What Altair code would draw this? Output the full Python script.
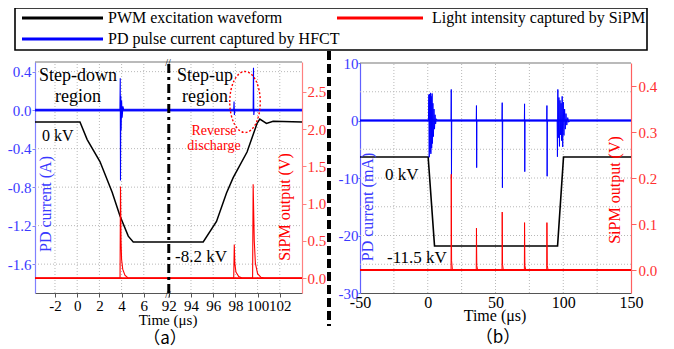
import altair as alt
import pandas as pd

FONT = "Liberation Serif"
CJK_FONT = "Noto Sans CJK TC"
BLUE = "#0000ff"
RED = "#ff0000"
BLACK = "#000000"
GRID = "#b8b8b8"

# ---------------- data ----------------
# Panel (a): time in microseconds (real time; after the axis break the time starts at 92 us)
A_PWM_T = [-3.8, 0.25, 0.9, 2.05, 3.15, 3.85, 4.6, 5.05, 8.2, 92.0, 95.1, 96.3, 97.2, 97.8, 99.05, 99.95, 100.2, 100.8, 101.4, 104.0]
A_PWM_KV = [0, 0, -1.2, -2.7, -4.8, -6.4, -7.8, -8.2, -8.2, -8.2, -8.2, -6.8, -4.85, -3.8, -2.05, -0.1, 0.2, -0.1, 0.05, 0]

A_PD_T = [-3.8, 3.85, 3.88, 3.9, 3.93, 3.96, 4.0, 4.05, 4.12, 4.2, 97.85, 97.88, 97.91, 97.95, 99.6, 99.63, 99.66, 99.7, 104.0]
A_PD_A = [0, 0, 0.33, -0.73, 0.15, -0.21, 0.1, -0.08, 0.04, 0, 0, 0.09, -0.05, 0, 0, 0.44, -0.05, 0, 0]

A_SIPM_T = [-3.8, 3.86, 3.9, 3.95, 4.0, 4.1, 4.3, 4.6, 97.85, 97.9, 97.95, 98.05, 98.3, 98.6, 99.55, 99.6, 99.7, 99.8, 100.0, 100.3, 100.6, 104.0]
A_SIPM_V = [0, 0, 1.23, 0.5, 0.25, 0.12, 0.04, 0, 0, 0.45, 0.2, 0.08, 0.02, 0, 0, 1.26, 0.5, 0.2, 0.06, 0.01, 0, 0]

A_X_TICKS = [-2, 0, 2, 4, 6, 8.25, 10.25, 12.25, 14.25, 16.25, 18.25]
A_X_GRID = [-2, 0, 2, 4, 6, 10.25, 12.25, 14.25, 16.25, 18.25]
A_PD_TICKS = [-1.6, -1.2, -0.8, -0.4, 0.0, 0.4]
A_PD_GRID = [-1.6, -1.2, -0.8, -0.4, 0.4]
A_SIPM_TICKS = [0.0, 0.5, 1.0, 1.5, 2.0, 2.5]
BREAK_SHIFT = 83.75
BREAK_POS = 8.25

# Panel (b)
B_PWM_T = [-50, 0.3, 5.0, 95.8, 100.2, 150]
B_PWM_KV = [0, 0, -11.5, -11.5, 0, 0]

B_PD_T = [-50, 0.5, 0.8, 1.1, 1.4, 1.7, 2.0, 2.3, 2.6, 2.9, 3.2, 3.5, 3.8, 4.2, 4.6, 5.0, 5.4, 5.8, 6.3, 7.0,
          17.2, 17.35, 17.5, 17.7,
          35.8, 35.95, 36.1, 36.3,
          54.8, 54.95, 55.1, 55.3,
          71.3, 71.45, 71.6, 71.8,
          87.8, 87.95, 88.1, 88.3,
          95.5, 95.7, 96.0, 96.4, 96.8, 97.2, 97.6, 98.0, 98.4, 98.8, 99.2, 99.6, 100.0, 100.5, 101.0, 101.5,
          102.0, 102.6, 103.3, 104.0, 105.0, 150]
B_PD_MA = [0, 0, 4.5, -6.4, 4.6, -5.5, 4.8, -5.8, 4.2, -4.8, 4.7, -4.0, 3.0, -2.8, 2.0, -1.5, 1.0, -0.6, 0.3, 0,
           0, 5.4, -10.0, 0,
           0, 2.6, -8.2, 0,
           0, 3.1, -11.7, 0,
           0, 2.9, -8.9, 0,
           0, 2.6, -9.7, 0,
           0, -6.3, 5.4, -3.0, 4.0, -4.5, 3.5, -2.5, 3.0, -3.5, 4.2, -4.6, 3.2, -2.6, 2.0, -1.5,
           1.2, -0.8, 0.5, -0.3, 0, 0]

B_SIPM_T = [-50, 17.2, 17.35, 17.6, 18.2, 35.8, 35.95, 36.2, 36.8, 54.8, 54.95, 55.2, 55.8,
            71.3, 71.45, 71.7, 72.3, 87.8, 87.95, 88.2, 88.8, 150]
B_SIPM_V = [0, 0, 0.208, 0.02, 0, 0, 0.091, 0.01, 0, 0, 0.126, 0.012, 0,
            0, 0.103, 0.01, 0, 0, 0.103, 0.01, 0, 0]

B_X_TICKS = [-50, 0, 50, 100, 150]
B_X_GRID = [-25, 0, 25, 50, 75, 100, 125]
B_PD_TICKS = [-30, -20, -10, 0, 10]
B_PD_GRID = [-25, -20, -15, -10, -5, 5]
B_SIPM_TICKS = [0.0, 0.1, 0.2, 0.3, 0.4]

# ---------------- layout (canvas) ----------------
W, H = 658, 285
A_RX = [27, 294]
B_RX = [352, 623]
A_RY = [285, 54]
B_RY = [285, 55]

A_X_DOM = [-3.8, 20.25]
A_PD_DOM = [-1.9, 0.5]
A_SIPM_DOM = [-0.2, 2.9]
A_KV_DOM = [-11.685, 4.1]
B_X_DOM = [-50, 150]
B_PD_DOM = [-30, 10]
B_SIPM_DOM = [-0.05, 0.45]
B_KV_DOM = [-17.57, 12.15]

ONE = pd.DataFrame({"k": [0]})


def sc(domain, rng):
    return alt.Scale(domain=domain, range=rng, nice=False, zero=False)


def frame(t, v):
    return pd.DataFrame({"t": t, "v": v})


XA_CALC = f"datum.t > 50 ? datum.t - {BREAK_SHIFT} : datum.t"
HYPH = "replace(format(datum.value, '.1f'), '\u2212', '-')"


def yaxis(orient, offset, values, color, dom_color, expr, size=15, tick=4, pad=1):
    return alt.Axis(orient=orient, offset=offset, values=values, labelExpr=expr, title=None, grid=False,
                    labelFont=FONT, labelFontSize=size, labelColor=color, domainColor=dom_color,
                    tickColor=dom_color, tickSize=tick, labelPadding=pad, labelOverlap=False,
                    labelFlush=False, domainWidth=1.2)


def xaxis(values, expr, size=15, tick=4, pad=2):
    return alt.Axis(orient="bottom", values=values, labelExpr=expr, title=None, grid=False,
                    labelFont=FONT, labelFontSize=size, labelColor=BLACK, domainColor="#555555",
                    tickColor="#555555", tickSize=tick, labelPadding=pad, labelOverlap=False,
                    labelFlush=False, domainWidth=1.2)


def label(text, x, y, size=16, color=BLACK, align="left", baseline="alphabetic", angle=0, lh=None, font=FONT):
    kw = dict(font=font, fontSize=size, color=color, align=align, baseline=baseline)
    if angle:
        kw["angle"] = angle
    if lh:
        kw["lineHeight"] = lh
    return alt.Chart(ONE).mark_text(**kw).encode(x=alt.value(x), y=alt.value(y), text=alt.value(text))


layers = []


def vgrid(vals, xdom, xr, ydom, yr):
    return alt.Chart(pd.DataFrame({"g": vals})).mark_rule(color=GRID, strokeDash=[1, 2], strokeWidth=1).encode(
        x=alt.X("g:Q", scale=sc(xdom, xr), axis=None),
        y=alt.YDatum(ydom[0], type="quantitative", scale=sc(ydom, yr), axis=None),
        y2=alt.Y2Datum(ydom[1]))


def hgrid(vals, xdom, xr, ydom, yr):
    return alt.Chart(pd.DataFrame({"g": vals})).mark_rule(color=GRID, strokeDash=[1, 2], strokeWidth=1).encode(
        y=alt.Y("g:Q", scale=sc(ydom, yr), axis=None),
        x=alt.XDatum(xdom[0], type="quantitative", scale=sc(xdom, xr), axis=None),
        x2=alt.X2Datum(xdom[1]))


def hline(yval, xdom, xr, ydom, yr, color, width, dash=None, opacity=1.0):
    kw = dict(color=color, strokeWidth=width, opacity=opacity)
    if dash:
        kw["strokeDash"] = dash
    return alt.Chart(ONE).mark_rule(**kw).encode(
        y=alt.YDatum(yval, type="quantitative", scale=sc(ydom, yr), axis=None),
        x=alt.XDatum(xdom[0], type="quantitative", scale=sc(xdom, xr), axis=None),
        x2=alt.X2Datum(xdom[1]))


layers += [vgrid(A_X_GRID, A_X_DOM, A_RX, A_PD_DOM, A_RY), hgrid(A_PD_GRID, A_X_DOM, A_RX, A_PD_DOM, A_RY),
           vgrid(B_X_GRID, B_X_DOM, B_RX, B_PD_DOM, B_RY), hgrid(B_PD_GRID, B_X_DOM, B_RX, B_PD_DOM, B_RY)]

# top borders
layers += [hline(A_PD_DOM[1], A_X_DOM, A_RX, A_PD_DOM, A_RY, "#777777", 1.2),
           hline(B_PD_DOM[1], B_X_DOM, B_RX, B_PD_DOM, B_RY, "#777777", 1.2)]

# ---- panel (a) ----
layers.append(alt.Chart(frame(A_PWM_T, A_PWM_KV)).transform_calculate(xd=XA_CALC).mark_line(
    color=BLACK, strokeWidth=1.5).encode(
    x=alt.X("xd:Q", scale=sc(A_X_DOM, A_RX), axis=None),
    y=alt.Y("v:Q", scale=sc(A_KV_DOM, A_RY), axis=None)))

layers.append(hline(0, A_X_DOM, A_RX, A_PD_DOM, A_RY, BLUE, 2.6, opacity=0.85))
layers.append(alt.Chart(frame(A_PD_T, A_PD_A)).transform_calculate(xd=XA_CALC).mark_line(
    color=BLUE, strokeWidth=1.1).encode(
    x=alt.X("xd:Q", scale=sc(A_X_DOM, A_RX),
            axis=xaxis(A_X_TICKS, f"datum.value > 7 ? toString(round(datum.value + {BREAK_SHIFT})) : toString(datum.value)",
                       size=15, tick=4, pad=1)),
    y=alt.Y("v:Q", scale=sc(A_PD_DOM, A_RY),
            axis=yaxis("left", -A_RX[0], A_PD_TICKS, "#3a3aff", "#8080ff", HYPH, tick=3, pad=1))))

layers.append(hline(0, A_X_DOM, A_RX, A_SIPM_DOM, A_RY, RED, 1.8))
layers.append(alt.Chart(frame(A_SIPM_T, A_SIPM_V)).transform_calculate(xd=XA_CALC).mark_line(
    color=RED, strokeWidth=1.1).encode(
    x=alt.X("xd:Q", scale=sc(A_X_DOM, A_RX), axis=None),
    y=alt.Y("v:Q", scale=sc(A_SIPM_DOM, A_RY),
            axis=yaxis("right", A_RX[1] - W, A_SIPM_TICKS, "#ff3030", "#ff8080", HYPH, size=15, tick=4, pad=1))))

# break line (dash-dot)
layers.append(alt.Chart(ONE).mark_rule(color=BLACK, strokeWidth=3, strokeDash=[9, 4, 3, 4]).encode(
    x=alt.XDatum(BREAK_POS, type="quantitative", scale=sc(A_X_DOM, A_RX), axis=None),
    y=alt.YDatum(A_PD_DOM[0], type="quantitative", scale=sc(A_PD_DOM, A_RY), axis=None),
    y2=alt.Y2Datum(A_PD_DOM[1])))

# ---- panel (b) ----
layers.append(alt.Chart(frame(B_PWM_T, B_PWM_KV)).mark_line(color=BLACK, strokeWidth=1.6).encode(
    x=alt.X("t:Q", scale=sc(B_X_DOM, B_RX), axis=None),
    y=alt.Y("v:Q", scale=sc(B_KV_DOM, B_RY), axis=None)))

layers.append(hline(0, B_X_DOM, B_RX, B_PD_DOM, B_RY, BLUE, 2.4, opacity=0.85))
layers.append(alt.Chart(frame(B_PD_T, B_PD_MA)).mark_line(color=BLUE, strokeWidth=1.0).encode(
    x=alt.X("t:Q", scale=sc(B_X_DOM, B_RX), axis=xaxis(B_X_TICKS, "toString(datum.value)", size=16, tick=0, pad=1)),
    y=alt.Y("v:Q", scale=sc(B_PD_DOM, B_RY),
            axis=yaxis("left", -B_RX[0], B_PD_TICKS, "#3a3aff", "#6060ff", "toString(datum.value)", size=15, tick=2, pad=0))))

layers.append(hline(0, B_X_DOM, B_RX, B_SIPM_DOM, B_RY, RED, 1.8))
layers.append(alt.Chart(frame(B_SIPM_T, B_SIPM_V)).mark_line(color=RED, strokeWidth=1.0).encode(
    x=alt.X("t:Q", scale=sc(B_X_DOM, B_RX), axis=None),
    y=alt.Y("v:Q", scale=sc(B_SIPM_DOM, B_RY),
            axis=yaxis("right", B_RX[1] - W, B_SIPM_TICKS, "#ff3030", "#ff6060", HYPH, size=15, tick=5, pad=2))))

# ---- separator between the panels ----
layers.append(alt.Chart(ONE).mark_rule(color=BLACK, strokeWidth=4, strokeDash=[9, 4]).encode(
    x=alt.value(321), y=alt.value(43), y2=alt.value(318)))

# ---- annotations ----
layers += [
    label(["Step-down", "region"], 70, 73, size=18, align="center", lh=21),
    label(["Step-up", "region"], 197, 73, size=18, align="center", lh=21),
    label(["Reverse", "discharge"], 206, 127, size=14, color=RED, align="center", lh=15),
    label("0 kV", 34, 133, size=16),
    label("-8.2 kV", 167, 254, size=17),
    label("0 kV", 377, 172, size=17),
    label("-11.5 kV", 379, 255, size=17),
    label("PD current (A)", 38, 196, size=16, color="#3a3aff", align="center", baseline="middle", angle=270),
    label("SiPM output (V)", 277, 199, size=16, color=RED, align="center", baseline="middle", angle=270),
    label("PD current (mA)", 360, 199, size=16, color="#3a3aff", align="center", baseline="middle", angle=270),
    label("SiPM output (V)", 607, 182, size=16, color=RED, align="center", baseline="middle", angle=270),
    label("Time (\u03bcs)", 160, 317, size=15, align="center"),
    label("Time (\u03bcs)", 487, 313, size=16, align="center"),
    label("\uff08a\uff09", 157, 336, size=17, align="center", font=CJK_FONT),
    label("\uff08b\uff09", 490, 335, size=17, align="center", font=CJK_FONT),
    label("//", 160, 55, size=10, align="center", baseline="middle"),
    label("//", 160, 287, size=10, align="center", baseline="middle"),
]

# red dotted ellipse around the reverse discharge
layers.append(alt.Chart(ONE).mark_point(
    shape="M -0.5 0 A 0.5 1 0 1 1 0.5 0 A 0.5 1 0 1 1 -0.5 0 Z", size=3721, filled=False,
    stroke=RED, strokeWidth=1.4, strokeDash=[2, 2], opacity=1).encode(x=alt.value(237), y=alt.value(94)))

# ---- legend ----
layers += [
    alt.Chart(ONE).mark_rect(fill="white", stroke=BLACK, strokeWidth=1.6).encode(
        x=alt.value(7), x2=alt.value(639), y=alt.value(0), y2=alt.value(42)),
    alt.Chart(ONE).mark_rule(color=BLACK, strokeWidth=3).encode(x=alt.value(14), x2=alt.value(95), y=alt.value(10)),
    alt.Chart(ONE).mark_rule(color=BLUE, strokeWidth=3).encode(x=alt.value(14), x2=alt.value(95), y=alt.value(31)),
    alt.Chart(ONE).mark_rule(color=RED, strokeWidth=3).encode(x=alt.value(329), x2=alt.value(415), y=alt.value(10)),
    label("PWM excitation waveform", 100, 10, size=16, baseline="middle"),
    label("PD pulse current captured by HFCT", 100, 31, size=16, baseline="middle"),
    label("Light intensity captured by SiPM", 424, 10, size=16, baseline="middle"),
]

chart = alt.layer(*layers).resolve_scale(x="independent", y="independent").properties(
    width=W, height=H,
    autosize=alt.AutoSizeParams(type="none"),
    padding={"left": 0, "top": 0, "right": 0, "bottom": 55},
).configure_view(stroke=None).configure_axis(labelFont=FONT).configure_text(font=FONT)

chart.save("out.html", embed_options={"renderer": "svg", "actions": False})
